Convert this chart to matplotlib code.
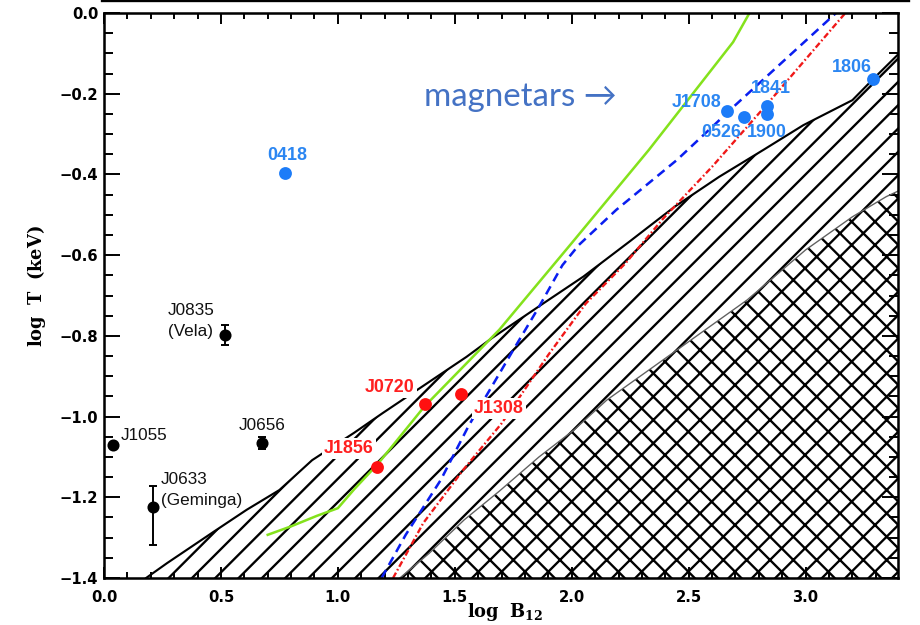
import matplotlib
matplotlib.use("Agg")
import matplotlib.pyplot as plt
import numpy as np
from matplotlib.lines import Line2D

DPI = 140
W_PX, H_PX = 920, 625

XLIM = (0.0, 3.395)
YLIM = (-1.4, 0.0)

# thermally emitting isolated NS (black, with error bars)
INS_NAMES = ["J1055", "J0633", "J0656", "J0835"]
INS_LOGB = [0.040, 0.210, 0.674, 0.518]
INS_LOGT = [-1.070, -1.223, -1.065, -0.798]
INS_ERR_LO = [0.0, 0.094, 0.015, 0.024]
INS_ERR_HI = [0.0, 0.052, 0.015, 0.024]

# XDINS (red)
XDINS_NAMES = ["J1856", "J0720", "J1308"]
XDINS_LOGB = [1.169, 1.374, 1.526]
XDINS_LOGT = [-1.124, -0.969, -0.944]

# magnetars (blue)
MAG_NAMES = ["0418", "J1708", "0526", "1841", "1900", "1806"]
MAG_LOGB = [0.774, 2.665, 2.736, 2.834, 2.834, 3.288]
MAG_LOGT = [-0.397, -0.243, -0.257, -0.230, -0.250, -0.163]

# model curves
GREEN_B = [0.70, 0.80, 0.91, 1.00, 1.07, 1.17, 1.37, 1.69, 2.00, 2.33, 2.69, 2.76]
GREEN_T = [-1.293, -1.272, -1.246, -1.227, -1.180, -1.118, -0.975, -0.785, -0.570, -0.339, -0.072, 0.0]

BLUE_B = [1.187, 1.29, 1.44, 1.56, 1.75, 1.86, 1.96, 2.03, 2.10, 2.19, 2.45, 2.70, 3.13]
BLUE_T = [-1.40, -1.293, -1.157, -1.022, -0.835, -0.728, -0.625, -0.575, -0.537, -0.488, -0.364, -0.228, 0.0]

RED_B = [1.236, 1.365, 1.536, 1.70, 1.90, 2.06, 2.23, 2.39, 2.60, 2.85, 3.17]
RED_T = [-1.40, -1.264, -1.132, -1.017, -0.847, -0.720, -0.620, -0.510, -0.381, -0.216, 0.0]

# forbidden regions
UPPER_B = [0.18, 0.27, 0.47, 0.61, 0.75, 0.89, 1.07, 1.19, 1.37, 1.55, 1.66, 1.88,
           2.05, 2.25, 2.44, 2.63, 2.82, 2.99, 3.20, 3.29, 3.40]
UPPER_T = [-1.40, -1.363, -1.285, -1.231, -1.182, -1.108, -1.040, -0.992, -0.922, -0.852,
           -0.805, -0.719, -0.653, -0.565, -0.480, -0.406, -0.339, -0.278, -0.216, -0.163, -0.100]

CROSS_B = [1.265, 1.39, 1.54, 1.69, 1.86, 2.01, 2.15, 2.75, 3.00, 3.20, 3.345, 3.40]
CROSS_T = [-1.40, -1.339, -1.256, -1.185, -1.100, -1.033, -0.959, -0.711, -0.587, -0.505, -0.455, -0.440]

BLUE_PT = "#1C7CF8"
BLUE_TXT = "#2B86F2"
RED_PT = "#FF1010"
RED_TXT = "#FF2020"


def ytick_fmt(v, pos):
    s = f"{v:.1f}"
    if s == "-0.0":
        s = "0.0"
    return s.replace("-", "\u2212")


plt.rcParams["mathtext.fontset"] = "dejavuserif"
plt.rcParams["hatch.linewidth"] = 1.2

fig = plt.figure(figsize=(W_PX / DPI, H_PX / DPI), dpi=DPI)
ax = fig.add_axes([104 / W_PX, 1 - 578 / H_PX, 794 / W_PX, 565 / H_PX])

# hatched regions
single_x = np.concatenate([UPPER_B, CROSS_B[::-1]])
single_y = np.concatenate([UPPER_T, CROSS_T[::-1]])
ax.fill(single_x, single_y, facecolor="none", edgecolor="black", hatch="//", linewidth=0, zorder=1)
cross_x = np.concatenate([CROSS_B, [CROSS_B[-1]]])
cross_y = np.concatenate([CROSS_T, [YLIM[0]]])
ax.fill(cross_x, cross_y, facecolor="white", edgecolor="black", hatch="xx", linewidth=0, zorder=1.5)
ax.plot(UPPER_B, UPPER_T, color="black", linewidth=1.1, zorder=2)
ax.plot(CROSS_B, CROSS_T, color="#606060", linewidth=0.7, zorder=2)

# curves
ax.plot(GREEN_B, GREEN_T, color="#84E21C", linewidth=1.3, zorder=3)
ax.plot(BLUE_B, BLUE_T, color="#0A1EF0", linewidth=1.3, linestyle=(0, (3.6, 2.3)), zorder=3)
ax.plot(RED_B, RED_T, color="#F01818", linewidth=1.2, linestyle=(0, (2.6, 1.1, 0.7, 1.1)), zorder=3)

# data points
ax.errorbar(INS_LOGB, INS_LOGT, yerr=[INS_ERR_LO, INS_ERR_HI], fmt="o", color="black",
            markersize=5.2, elinewidth=1.0, capsize=2, capthick=1.0, zorder=5)
ax.plot(XDINS_LOGB, XDINS_LOGT, "o", color=RED_PT, markersize=5.6, zorder=5)
ax.plot(MAG_LOGB, MAG_LOGT, "o", color=BLUE_PT, markersize=5.6, zorder=5)

# labels
black_kw = dict(fontsize=8.8, family="Liberation Sans", color="#111111", zorder=6)
ax.text(0.073, -1.046, "J1055", ha="left", va="center", **black_kw)
ax.text(0.675, -1.021, "J0656", ha="center", va="center", **black_kw)
ax.text(0.244, -1.157, "J0633", ha="left", va="center", **black_kw)
ax.text(0.244, -1.209, "(Geminga)", ha="left", va="center", **black_kw)
ax.text(0.274, -0.738, "J0835", ha="left", va="center", **black_kw)
ax.text(0.274, -0.790, "(Vela)", ha="left", va="center", **black_kw)

red_kw = dict(fontsize=9.2, family="Liberation Sans", fontweight="bold", color=RED_TXT, zorder=6,
              bbox=dict(facecolor="white", edgecolor="none", pad=1.0))
ax.text(1.047, -1.078, "J1856", ha="center", va="center", **red_kw)
ax.text(1.222, -0.929, "J0720", ha="center", va="center", **red_kw)
ax.text(1.688, -0.981, "J1308", ha="center", va="center", **red_kw)

blue_kw = dict(fontsize=9.2, family="Liberation Sans", fontweight="bold", color=BLUE_TXT, zorder=6)
ax.text(0.782, -0.352, "0418", ha="center", va="center", **blue_kw)
ax.text(2.641, -0.223, "J1708", ha="right", va="center", **blue_kw)
ax.text(2.641, -0.295, "0526", ha="center", va="center", **blue_kw)
ax.text(2.833, -0.295, "1900", ha="center", va="center", **blue_kw)
ax.text(2.850, -0.188, "1841", ha="center", va="center", **blue_kw)
ax.text(3.197, -0.134, "1806", ha="center", va="center", **blue_kw)

ax.text(1.368, -0.208, "magnetars \u2192", ha="left", va="center", fontsize=17,
        family=["Lato", "DejaVu Sans"], color="#4472C4", zorder=6)

# axes styling
ax.set_xlim(*XLIM)
ax.set_ylim(*YLIM)
ax.set_xticks(np.arange(0.0, 3.01, 0.5))
ax.set_xticks(np.arange(0.0, 3.4, 0.1), minor=True)
ax.set_yticks(np.arange(-1.4, 0.01, 0.2))
ax.set_yticks(np.arange(-1.4, 0.001, 0.05), minor=True)
ax.xaxis.set_major_formatter(matplotlib.ticker.FormatStrFormatter("%.1f"))
ax.yaxis.set_major_formatter(matplotlib.ticker.FuncFormatter(ytick_fmt))
ax.tick_params(axis="both", which="both", direction="in", top=True, right=True, width=1.0)
ax.tick_params(axis="x", which="major", length=5.7, pad=6)
ax.tick_params(axis="x", which="minor", length=3.0)
ax.tick_params(axis="y", which="major", length=8.0, pad=3)
ax.tick_params(axis="y", which="minor", length=4.4)
for lab in ax.get_xticklabels() + ax.get_yticklabels():
    lab.set_fontfamily("DejaVu Sans")
    lab.set_fontweight("bold")
    lab.set_fontsize(7.6)
for sp in ax.spines.values():
    sp.set_linewidth(1.3)
    sp.set_zorder(7)

ax.set_xlabel(r"$\mathbf{log\ \ B_{12}}$", fontsize=9.2)
ax.xaxis.label.set_va("center")
ax.xaxis.set_label_coords(0.505, -0.060)
ax.set_ylabel(r"$\mathbf{log\ \ T\ \ (keV)}$", fontsize=9.2)
ax.yaxis.label.set_va("center")
ax.yaxis.set_label_coords(-0.0856, 0.517)

# cropped frame line at the very top of the image
fig.add_artist(Line2D([102 / W_PX, 909 / W_PX], [1 - 0.8 / H_PX] * 2, color="black", linewidth=1.2))

fig.savefig("out.png", dpi=DPI)
